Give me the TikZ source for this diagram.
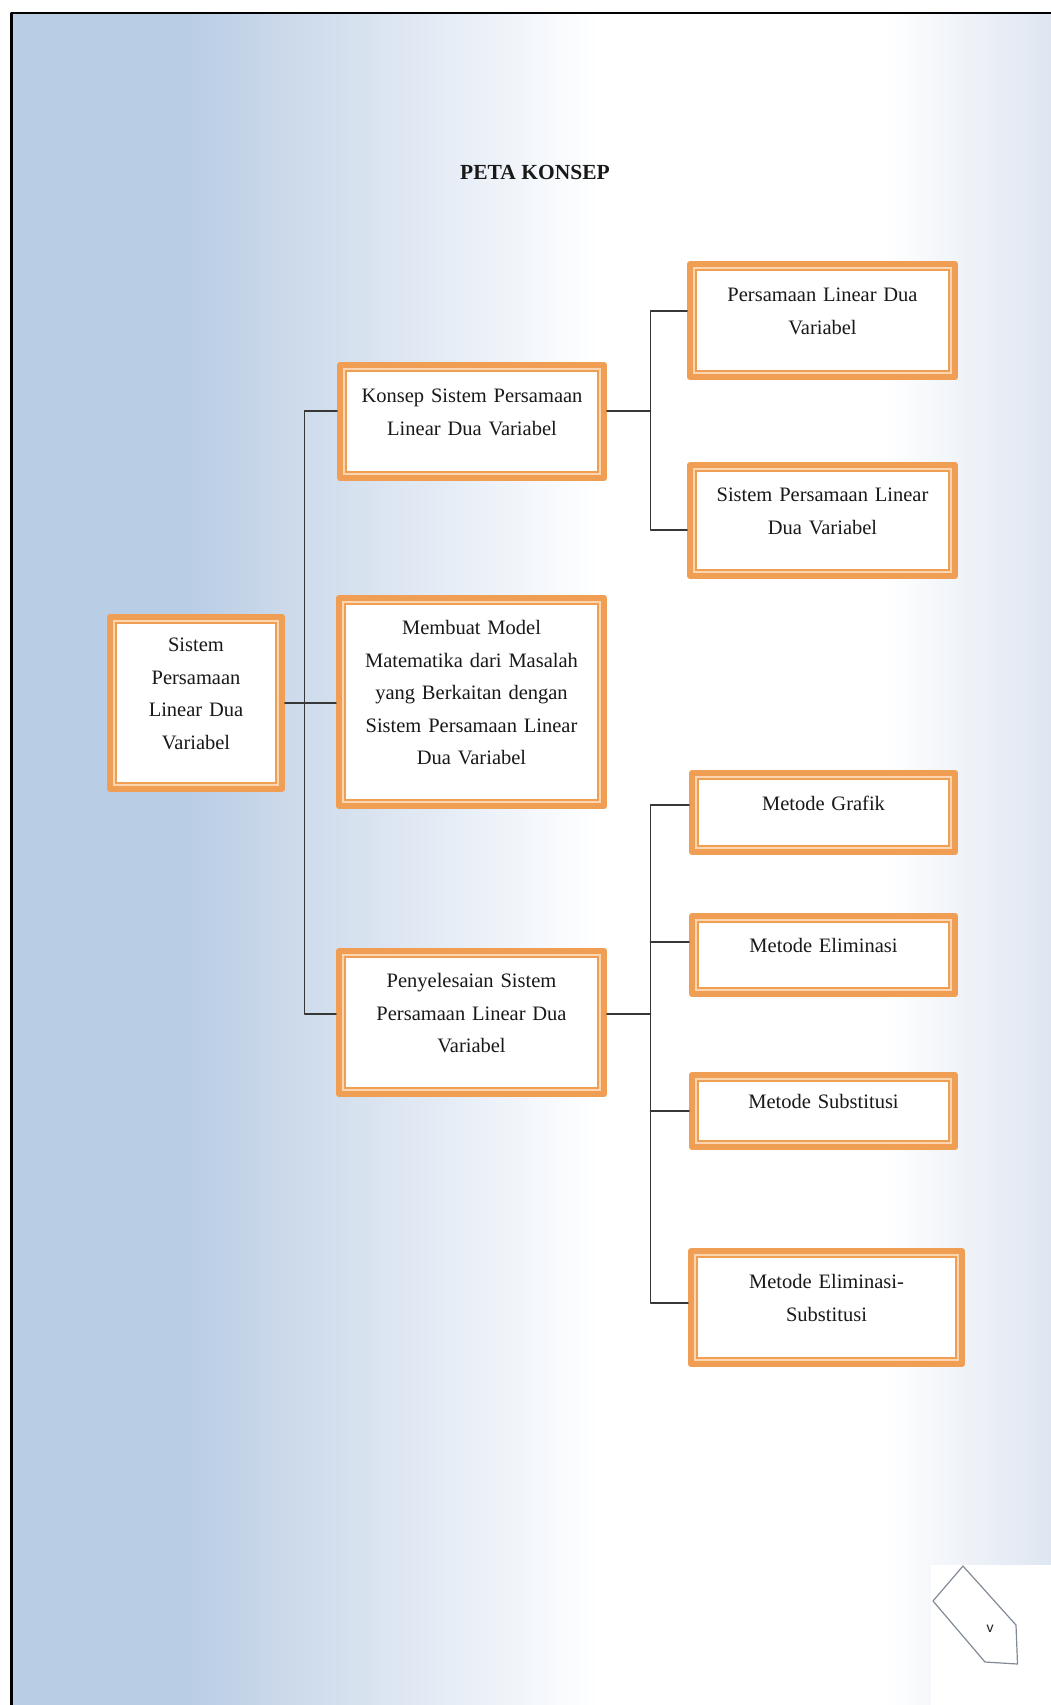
\documentclass[tikz,border=0pt]{standalone}
\usepackage{fontspec}
\setmainfont{Liberation Serif}
\newfontfamily\pagefont{Liberation Sans}
\definecolor{bgblue}{RGB}{185,205,229}
\definecolor{bgtwo}{RGB}{203,217,234}
\definecolor{bgthree}{RGB}{223,231,242}
\definecolor{bgfour}{RGB}{245,248,252}
\definecolor{bgright}{RGB}{222,230,241}
\definecolor{boxorange}{RGB}{240,158,84}
\definecolor{boxpale}{RGB}{251,214,176}
\definecolor{linegray}{RGB}{55,55,55}
\definecolor{textgray}{RGB}{25,25,25}
\definecolor{markgray}{RGB}{130,138,150}
\pgfdeclarehorizontalshading{pagebg}{100bp}{color(0bp)=(bgblue); color(33.5bp)=(bgblue); color(38bp)=(bgtwo); color(44bp)=(bgthree); color(50.4bp)=(bgfour); color(53.3bp)=(white); color(67bp)=(white); color(75bp)=(bgright); color(100bp)=(bgright)}
\begin{document}
\begin{tikzpicture}[x=1pt,y=-1pt,line join=round,line cap=round]
	\tikzset{konsep/.style={draw=boxorange,line width=6pt,fill=white,
			path picture={\draw[boxorange,line width=14pt] (path picture bounding box.south west) rectangle (path picture bounding box.north east);
				\draw[boxpale,line width=10pt] (path picture bounding box.south west) rectangle (path picture bounding box.north east);},
			outer sep=3pt,inner sep=0pt,align=center,text=textgray,font=\fontsize{20.5}{32.5}\selectfont,
			execute at end node={\vrule width 0pt height 0pt depth 19pt}},
		link/.style={linegray,line width=1.7pt}}
	\useasboundingbox (0,0) rectangle (1051,1705);
	% halaman
	\shade[shading=pagebg] (12,13) rectangle (1051,1705);
	\draw[black,line width=2.5pt] (11.5,1705)--(11.5,13)--(1051,13);
	\node[font=\bfseries\fontsize{21.5}{26}\selectfont,text=textgray] (judul) at (535,172) {PETA KONSEP};
	% kotak
	\node[konsep,minimum width=172,minimum height=172,text width=165] (spldv) at (196,703) {Sistem\\Persamaan\\Linear Dua\\Variabel};
	\node[konsep,minimum width=264,minimum height=113,text width=255] (konsep) at (472,421.5) {Konsep Sistem Persamaan\\Linear Dua Variabel};
	\node[konsep,minimum width=265,minimum height=208,text width=255] (model) at (471.5,702) {Membuat Model\\Matematika dari Masalah\\yang Berkaitan dengan\\Sistem Persamaan Linear\\Dua Variabel};
	\node[konsep,minimum width=265,minimum height=143,text width=255] (selesai) at (471.5,1022.5) {Penyelesaian Sistem\\Persamaan Linear Dua\\Variabel};
	\node[konsep,minimum width=265,minimum height=113,text width=255] (pldv) at (822.5,320.5) {Persamaan Linear Dua\\Variabel};
	\node[konsep,minimum width=265,minimum height=111,text width=255] (sistem) at (822.5,520.5) {Sistem Persamaan Linear\\Dua Variabel};
	\node[konsep,minimum width=263,minimum height=79,text width=255] (grafik) at (823.5,812.5) {Metode Grafik};
	\node[konsep,minimum width=263,minimum height=78,text width=255] (eliminasi) at (823.5,955) {Metode Eliminasi};
	\node[konsep,minimum width=263,minimum height=72,text width=255] (substitusi) at (823.5,1111) {Metode Substitusi};
	\node[konsep,minimum width=271,minimum height=113,text width=260] (campuran) at (826.5,1307.5) {Metode Eliminasi-\\Substitusi};
	% garis
	\coordinate (ltop) at (304.5,411);
	\coordinate (lbot) at (304.5,1014);
	\coordinate (rtop) at (650.5,311);
	\coordinate (rbot) at (650.5,530);
	\coordinate (mtop) at (650.5,805);
	\coordinate (mbot) at (650.5,1303);
	\draw[link] (ltop -| konsep.west)--(ltop)--(lbot)--(lbot -| selesai.west);
	\draw[link] (spldv.east)--(spldv.east -| model.west);
	\draw[link] (ltop -| konsep.east)--(ltop -| rtop);
	\draw[link] (rtop -| pldv.west)--(rtop)--(rbot)--(rbot -| sistem.west);
	\draw[link] (lbot -| selesai.east)--(lbot -| mtop);
	\draw[link] (mtop -| grafik.west)--(mtop)--(mbot)--(mbot -| campuran.west);
	\draw[link] ([yshift=13pt]eliminasi.west)--([yshift=13pt]eliminasi.west -| mtop);
	\draw[link] (substitusi.west)--(substitusi.west -| mtop);
	% nomor halaman
	\fill[white] (931,1565) rectangle (1051,1705);
	\draw[markgray,line width=1.2pt] (963,1566)--(933,1601)--(985,1662)--(1017.5,1664)--(1016,1625)--cycle;
	\node[font=\pagefont\fontsize{14}{14}\selectfont,text=textgray] (hal) at (990,1629) {v};
\end{tikzpicture}
\end{document}
